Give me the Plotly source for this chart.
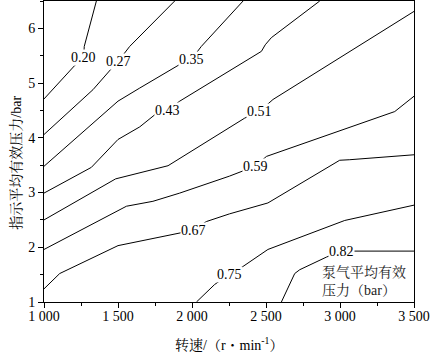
import plotly.graph_objects as go

# ---- data: contour lines of pumping mean effective pressure (bar) ----
levels = ["0.20", "0.27", "0.35", "0.43", "0.51", "0.59", "0.67", "0.75", "0.82"]

speed_020 = [1000, 1207, 1268, 1272, 1354]
pmi_020 = [4.71, 5.32, 5.47, 5.67, 6.5]

speed_027 = [1000, 1331, 1451, 1502, 1579, 1883]
pmi_027 = [4.06, 4.88, 5.25, 5.40, 5.67, 6.5]

speed_035 = [1000, 1500, 1647, 1917, 1998, 2063, 2345]
pmi_035 = [3.48, 4.67, 4.91, 5.34, 5.44, 5.67, 6.5]

speed_043 = [1000, 1320, 1500, 1647, 1748, 1834, 1917, 2469, 2495, 2536, 2863]
pmi_043 = [2.99, 3.46, 3.97, 4.20, 4.42, 4.50, 4.67, 5.58, 5.70, 5.83, 6.5]

speed_051 = [1000, 1484, 1838, 2356, 2459, 2547, 3500]
pmi_051 = [2.50, 3.25, 3.49, 4.36, 4.49, 4.70, 6.31]

speed_059 = [1000, 1489, 1557, 1736, 1917, 2253, 2340, 2426, 2503, 3370, 3500]
pmi_059 = [1.96, 2.66, 2.75, 2.84, 2.99, 3.30, 3.39, 3.48, 3.66, 4.48, 4.76]

speed_067 = [1000, 1106, 1500, 1917, 2007, 2097, 2253, 2513, 2998, 3066, 3500]
pmi_067 = [1.24, 1.52, 2.03, 2.26, 2.31, 2.47, 2.61, 2.81, 3.59, 3.60, 3.69]

speed_075 = [2030, 2153, 2250, 2345, 2513, 3032, 3500]
pmi_075 = [1.0, 1.32, 1.50, 1.65, 1.96, 2.49, 2.77]

speed_082 = [2604, 2694, 2728, 2908, 3007, 3104, 3500]
pmi_082 = [1.0, 1.52, 1.59, 1.82, 1.93, 1.93, 1.93]

# index of the contour point where each level label sits
label_index = [2, 3, 4, 5, 4, 7, 4, 2, 4]

x_tickvals = [1000, 1500, 2000, 2500, 3000, 3500]
x_ticktext = ["1 000", "1 500", "2 000", "2 500", "3 000", "3 500"]
y_tickvals = [1, 2, 3, 4, 5, 6]

x_title = "转速/（r・min<sup>-1</sup>）"
y_title = "指示平均有效压力/bar"
legend_text = "泵气平均有效<br>压力（bar）"

contours = [
    (speed_020, pmi_020), (speed_027, pmi_027), (speed_035, pmi_035),
    (speed_043, pmi_043), (speed_051, pmi_051), (speed_059, pmi_059),
    (speed_067, pmi_067), (speed_075, pmi_075), (speed_082, pmi_082),
]

SERIF = "Times New Roman, Liberation Serif, serif"
CJK = "Liberation Serif, Noto Serif CJK SC, Noto Sans CJK SC"

fig = go.Figure()
for (xs, ys) in contours:
    fig.add_trace(go.Scatter(x=xs, y=ys, mode="lines",
                             line=dict(color="black", width=1),
                             hoverinfo="skip"))

annotations = []
for lev, (xs, ys), i in zip(levels, contours, label_index):
    annotations.append(dict(x=xs[i], y=ys[i], xref="x", yref="y", text=lev,
                            showarrow=False, bgcolor="white", borderpad=0,
                            font=dict(family=SERIF, size=14, color="black")))

annotations.append(dict(x=2863, y=1.38, xref="x", yref="y", text=legend_text,
                        showarrow=False, xanchor="left", yanchor="middle",
                        align="left",
                        font=dict(family=CJK, size=14, color="#222")))
annotations.append(dict(x=0.5, y=0, xref="paper", yref="paper", text=x_title,
                        showarrow=False, xanchor="center", yanchor="middle",
                        yshift=-42, font=dict(family=CJK, size=14, color="black")))
annotations.append(dict(x=0, y=0.463, xref="paper", yref="paper", text=y_title,
                        showarrow=False, xanchor="center", yanchor="middle",
                        textangle=-90, xshift=-28,
                        font=dict(family=CJK, size=14, color="black")))

axis_common = dict(showline=True, linecolor="black", linewidth=1, mirror=True,
                   showgrid=False, zeroline=False, ticks="outside", ticklen=5,
                   tickwidth=1, tickcolor="black",
                   tickfont=dict(family=SERIF, size=14, color="black"))

fig.update_layout(
    width=431, height=353,
    margin=dict(l=44, r=17, t=1, b=51),
    plot_bgcolor="white", paper_bgcolor="white",
    showlegend=False,
    annotations=annotations,
    xaxis=dict(range=[1000, 3500], tickvals=x_tickvals, ticktext=x_ticktext,
               ticklabelstandoff=-4,
               minor=dict(ticks="outside", ticklen=3, tickwidth=1, tickcolor="black",
                          dtick=250, tick0=1000, showgrid=False),
               **axis_common),
    yaxis=dict(range=[1, 6.5], tickvals=y_tickvals,
               minor=dict(ticks="outside", ticklen=3, tickwidth=1, tickcolor="black",
                          dtick=0.5, tick0=1, showgrid=False),
               **axis_common),
)

fig.write_html("out.html")
